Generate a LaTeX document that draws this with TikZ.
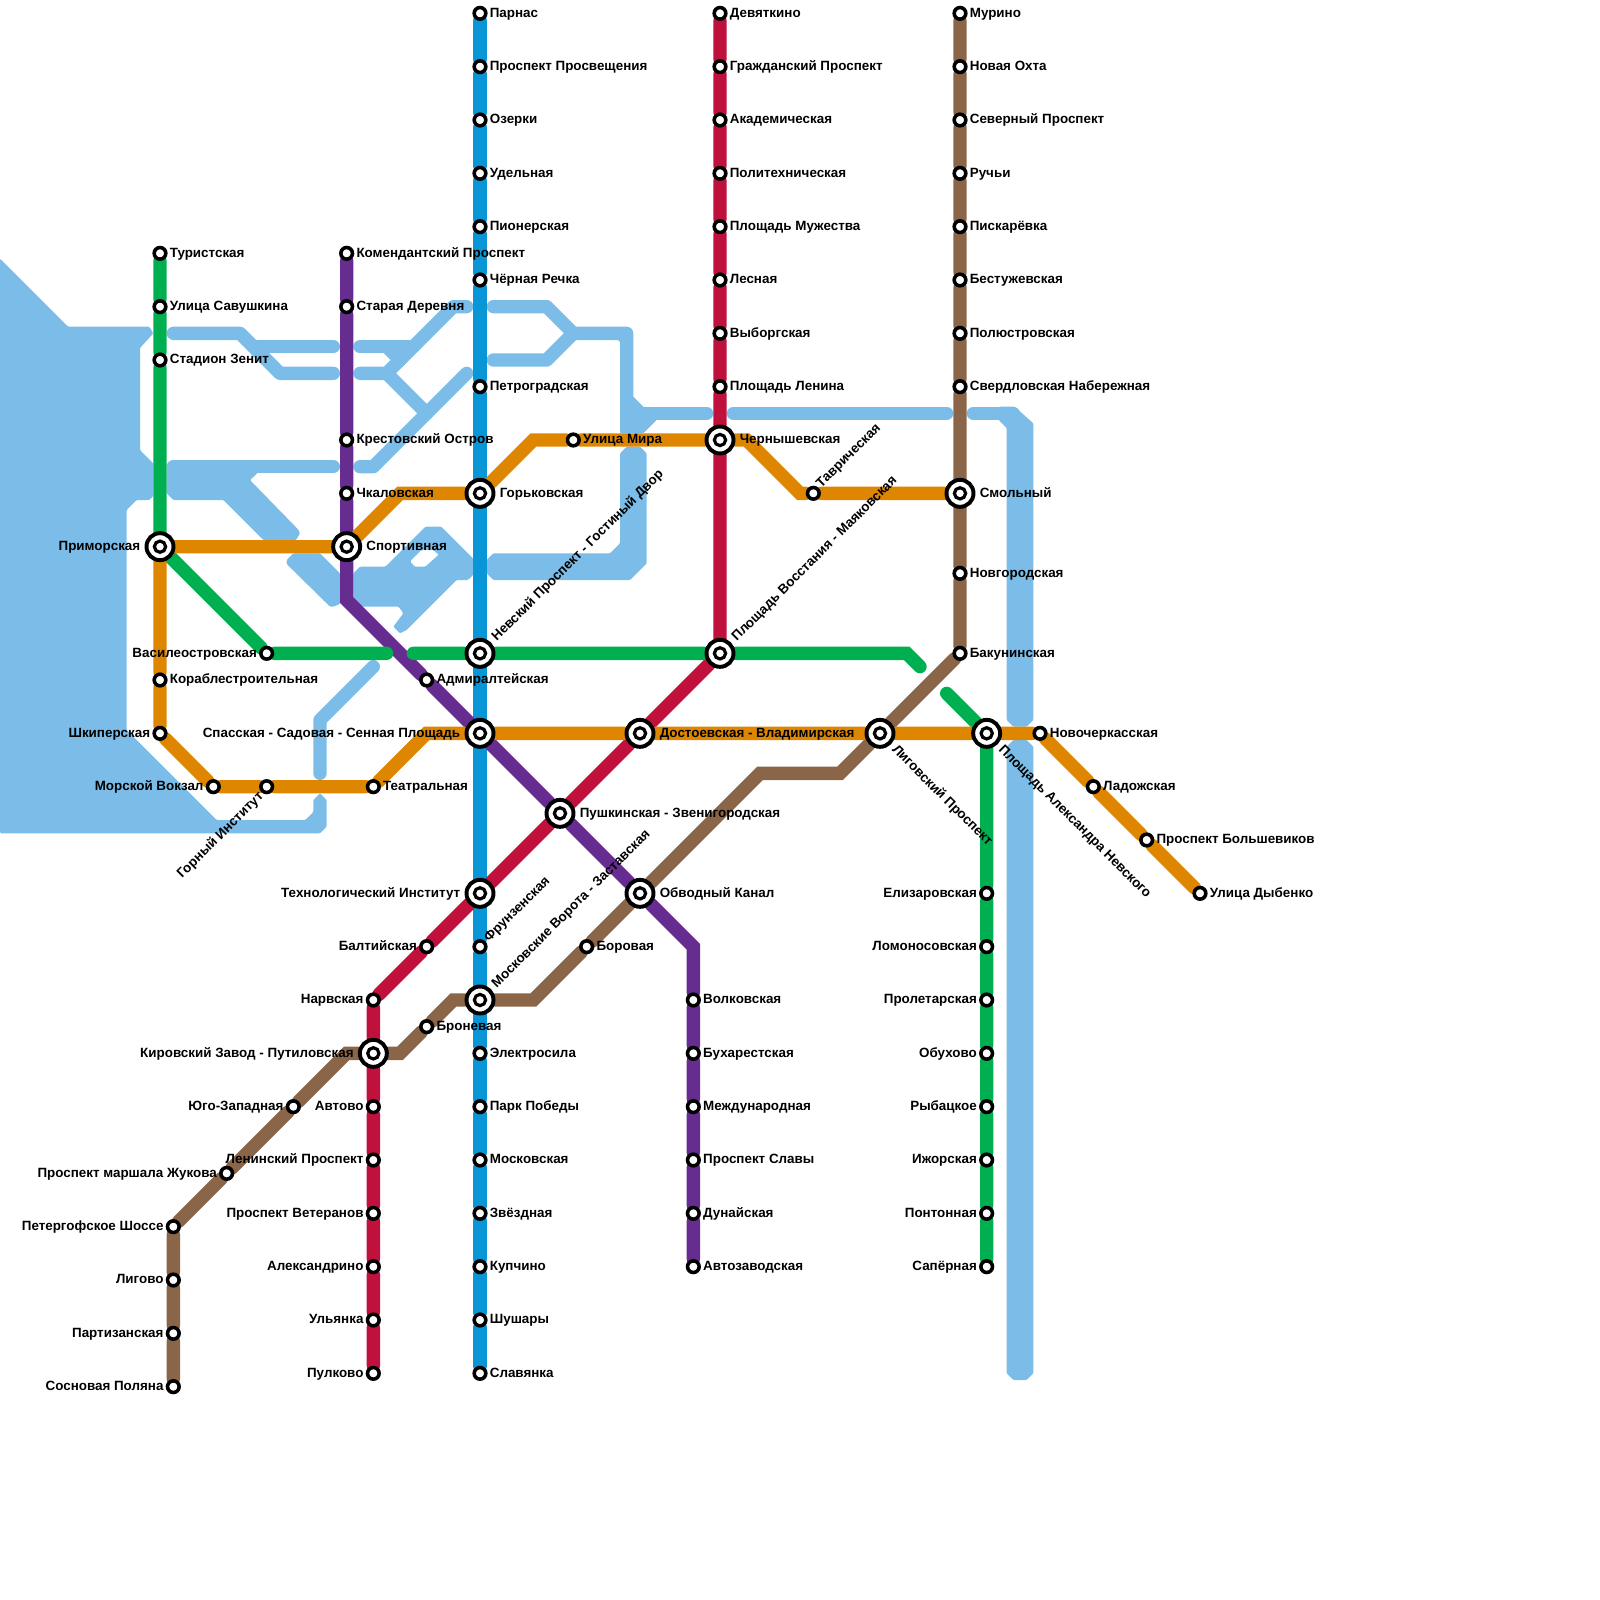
\documentclass[tikz,border=0pt]{standalone}
\usepackage{fontspec}
\setmainfont{Liberation Sans}
\usepackage{xcolor}
\definecolor{mtblue}{RGB}{9,150,215}
\definecolor{mtred}{RGB}{192,16,60}
\definecolor{mtbrown}{RGB}{139,101,72}
\definecolor{mtgreen}{RGB}{0,176,80}
\definecolor{mtorange}{RGB}{223,134,0}
\definecolor{mtpurple}{RGB}{102,44,144}
\definecolor{mtwater}{RGB}{123,189,232}
\usetikzlibrary{calc}
\pgfdeclarelayer{water}
\pgfdeclarelayer{track}
\pgfsetlayers{water,track,main}
\tikzset{
  st/.style={circle, draw=black, fill=white, line width=1.9pt, minimum size=6.2pt, inner sep=0pt},
  bigst/.style={circle, draw=black, fill=white, line width=2.1pt, minimum size=14.4pt, inner sep=0pt,
    path picture={\draw[black, line width=1.7pt] (path picture bounding box.center) circle (3.0pt);}},
  lb/.style={font=\bfseries\fontsize{7.15}{8}\selectfont, inner sep=0pt, outer sep=0pt, text=black, text height=5.6pt, text depth=1.5pt, label distance=1.2pt},
  biglb/.style={lb, label distance=2.3pt},
  rotlb/.style={lb, label distance=3.2pt},
  track/.style={line width=0.25cm, line cap=round},
  river/.style={draw=mtwater, line width=0.25cm, line cap=round},
  pool/.style={fill=mtwater, rounded corners=0.6pt},
}
\begin{document}
\begin{tikzpicture}[x=0.25cm, y=-0.25cm]
  \useasboundingbox (0,0) rectangle (120,120);

  % Line 2: blue
  \node[st, label={[lb]right:Парнас}] (parnas) at (36,1) {};
  \node[st, label={[lb]right:Проспект Просвещения}] (prosvet) at (36,5) {};
  \node[st, label={[lb]right:Озерки}] (ozerki) at (36,9) {};
  \node[st, label={[lb]right:Удельная}] (udel) at (36,13) {};
  \node[st, label={[lb]right:Пионерская}] (pioner) at (36,17) {};
  \node[st, label={[lb]right:Чёрная Речка}] (chrech) at (36,21) {};
  \node[st, label={[lb]right:Петроградская}] (petrog) at (36,29) {};
  \node[bigst, label={[biglb]right:Горьковская}] (gorkov) at (36,37) {};
  \node[bigst, label={[rotlb,rotate=45,anchor=west]33:Невский Проспект - Гостиный Двор}] (nevsky) at (36,49) {};
  \node[bigst, label={[biglb]left:Спасская - Садовая - Сенная Площадь}] (sennaya) at (36,55) {};
  \node[bigst, label={[biglb]left:Технологический Институт}] (tehno) at (36,67) {};
  \node[st, label={[lb,rotate=45,anchor=west]36:Фрунзенская}] (frunz) at (36,71) {};
  \node[bigst, label={[rotlb,rotate=45,anchor=west]33:Московские Ворота - Заставская}] (movor) at (36,75) {};
  \node[st, label={[lb]right:Электросила}] (elektro) at (36,79) {};
  \node[st, label={[lb]right:Парк Победы}] (parkpob) at (36,83) {};
  \node[st, label={[lb]right:Московская}] (moskov) at (36,87) {};
  \node[st, label={[lb]right:Звёздная}] (zvezd) at (36,91) {};
  \node[st, label={[lb]right:Купчино}] (kupch) at (36,95) {};
  \node[st, label={[lb]right:Шушары}] (shush) at (36,99) {};
  \node[st, label={[lb]right:Славянка}] (slav) at (36,103) {};

  % Line 1: red
  \node[st, label={[lb]right:Девяткино}] (devyat) at (54,1) {};
  \node[st, label={[lb]right:Гражданский Проспект}] (grazhd) at (54,5) {};
  \node[st, label={[lb]right:Академическая}] (akadem) at (54,9) {};
  \node[st, label={[lb]right:Политехническая}] (politeh) at (54,13) {};
  \node[st, label={[lb]right:Площадь Мужества}] (muzh) at (54,17) {};
  \node[st, label={[lb]right:Лесная}] (lesn) at (54,21) {};
  \node[st, label={[lb]right:Выборгская}] (vyborg) at (54,25) {};
  \node[st, label={[lb]right:Площадь Ленина}] (lenina) at (54,29) {};
  \node[bigst, label={[biglb]right:Чернышевская}] (chern) at (54,33) {};
  \node[bigst, label={[rotlb,rotate=45,anchor=west]33:Площадь Восстания - Маяковская}] (vosst) at (54,49) {};
  \node[bigst, label={[biglb]right:Достоевская - Владимирская}] (dostoev) at (48,55) {};
  \node[bigst, label={[biglb]right:Пушкинская - Звенигородская}] (pushk) at (42,61) {};
  \node[st, label={[lb]left:Балтийская}] (balt) at (32,71) {};
  \node[st, label={[lb]left:Нарвская}] (narv) at (28,75) {};
  \node[bigst, label={[biglb]left:Кировский Завод - Путиловская}] (kirov) at (28,79) {};
  \node[st, label={[lb]left:Автово}] (avtovo) at (28,83) {};
  \node[st, label={[lb]left:Ленинский Проспект}] (leninpr) at (28,87) {};
  \node[st, label={[lb]left:Проспект Ветеранов}] (veter) at (28,91) {};
  \node[st, label={[lb]left:Александрино}] (alex) at (28,95) {};
  \node[st, label={[lb]left:Ульянка}] (ulyan) at (28,99) {};
  \node[st, label={[lb]left:Пулково}] (pulk) at (28,103) {};

  % Line 4: brown
  \node[st, label={[lb]right:Мурино}] (murino) at (72,1) {};
  \node[st, label={[lb]right:Новая Охта}] (nokhta) at (72,5) {};
  \node[st, label={[lb]right:Северный Проспект}] (sever) at (72,9) {};
  \node[st, label={[lb]right:Ручьи}] (ruchi) at (72,13) {};
  \node[st, label={[lb]right:Пискарёвка}] (piskar) at (72,17) {};
  \node[st, label={[lb]right:Бестужевская}] (bestuzh) at (72,21) {};
  \node[st, label={[lb]right:Полюстровская}] (polyus) at (72,25) {};
  \node[st, label={[lb]right:Свердловская Набережная}] (sverdl) at (72,29) {};
  \node[bigst, label={[biglb]right:Смольный}] (smoln) at (72,37) {};
  \node[st, label={[lb]right:Новгородская}] (novgor) at (72,43) {};
  \node[st, label={[lb]right:Бакунинская}] (bakun) at (72,49) {};
  \node[bigst, label={[rotlb,rotate=-45,anchor=west]-33:Лиговский Проспект}] (ligov) at (66,55) {};
  \node[bigst, label={[biglb]right:Обводный Канал}] (obvod) at (48,67) {};
  \node[st, label={[lb]right:Боровая}] (borov) at (44,71) {};
  \node[st, label={[lb]right:Броневая}] (bronev) at (32,77) {};
  \node[st, label={[lb]left:Юго-Западная}] (yugoz) at (22,83) {};
  \node[st, label={[lb]left:Проспект маршала Жукова}] (zhukov) at (17,88) {};
  \node[st, label={[lb]left:Петергофское Шоссе}] (peterg) at (13,92) {};
  \node[st, label={[lb]left:Лигово}] (ligovo) at (13,96) {};
  \node[st, label={[lb]left:Партизанская}] (partiz) at (13,100) {};
  \node[st, label={[lb]left:Сосновая Поляна}] (sosnov) at (13,104) {};

  % Line 3: green
  \node[st, label={[lb]right:Туристская}] (turist) at (12,19) {};
  \node[st, label={[lb]right:Улица Савушкина}] (savush) at (12,23) {};
  \node[st, label={[lb]right:Стадион Зенит}] (zenit) at (12,27) {};
  \node[bigst, label={[biglb]left:Приморская}] (primor) at (12,41) {};
  \node[st, label={[lb]left:Василеостровская}] (vasil) at (20,49) {};
  \node[bigst, label={[rotlb,rotate=-45,anchor=west]-33:Площадь Александра Невского}] (alnev) at (74,55) {};
  \node[st, label={[lb]left:Елизаровская}] (elizar) at (74,67) {};
  \node[st, label={[lb]left:Ломоносовская}] (lomon) at (74,71) {};
  \node[st, label={[lb]left:Пролетарская}] (prolet) at (74,75) {};
  \node[st, label={[lb]left:Обухово}] (obuh) at (74,79) {};
  \node[st, label={[lb]left:Рыбацкое}] (rybac) at (74,83) {};
  \node[st, label={[lb]left:Ижорская}] (izhor) at (74,87) {};
  \node[st, label={[lb]left:Понтонная}] (ponton) at (74,91) {};
  \node[st, label={[lb]left:Сапёрная}] (saper) at (74,95) {};

  % Line 5: purple
  \node[st, label={[lb]right:Комендантский Проспект}] (koment) at (26,19) {};
  \node[st, label={[lb]right:Старая Деревня}] (stader) at (26,23) {};
  \node[st, label={[lb]right:Крестовский Остров}] (krest) at (26,33) {};
  \node[st, label={[lb]right:Чкаловская}] (chkal) at (26,37) {};
  \node[bigst, label={[biglb]right:Спортивная}] (sport) at (26,41) {};
  \node[st, label={[lb]right:Адмиралтейская}] (admir) at (32,51) {};
  \node[st, label={[lb]right:Волковская}] (volk) at (52,75) {};
  \node[st, label={[lb]right:Бухарестская}] (buhar) at (52,79) {};
  \node[st, label={[lb]right:Международная}] (mezhd) at (52,83) {};
  \node[st, label={[lb]right:Проспект Славы}] (prslav) at (52,87) {};
  \node[st, label={[lb]right:Дунайская}] (dunai) at (52,91) {};
  \node[st, label={[lb]right:Автозаводская}] (avtoz) at (52,95) {};

  % Line 6: orange
  \node[st, label={[lb]right:Кораблестроительная}] (korabl) at (12,51) {};
  \node[st, label={[lb]left:Шкиперская}] (shkip) at (12,55) {};
  \node[st, label={[lb]left:Морской Вокзал}] (morvok) at (16,59) {};
  \node[st, label={[lb,rotate=45,anchor=east]225:Горный Институт}] (gorny) at (20,59) {};
  \node[st, label={[lb]right:Театральная}] (teatr) at (28,59) {};
  \node[st, label={[lb]right:Улица Мира}] (ulmira) at (43,33) {};
  \node[st, label={[lb,rotate=45,anchor=west]45:Таврическая}] (tavr) at (61,37) {};
  \node[st, label={[lb]right:Новочеркасская}] (novoch) at (78,55) {};
  \node[st, label={[lb]right:Ладожская}] (ladozh) at (82,59) {};
  \node[st, label={[lb]right:Проспект Большевиков}] (bolsh) at (86,63) {};
  \node[st, label={[lb]right:Улица Дыбенко}] (dyben) at (90,67) {};

  % Bends
  \coordinate (purbend1) at (26,45);
  \coordinate (purbend2) at (52,71);
  \coordinate (orbend1) at (32,55);
  \coordinate (orbend2) at (30,37);
  \coordinate (orbend3) at (40,33);
  \coordinate (orbend4) at (56,33);
  \coordinate (orbend5) at (60,37);
  \coordinate (brbend1) at (63,58);
  \coordinate (brbend2) at (57,58);
  \coordinate (brbend3) at (40,75);
  \coordinate (brbend4) at (34,75);
  \coordinate (brbend5) at (30,79);
  \coordinate (brbend6) at (26,79);
  \coordinate (grend1) at (29,49);
  \coordinate (grend2) at (31,49);
  \coordinate (grend3) at (68,49);
  \coordinate (grend4) at (69,50);
  \coordinate (grend5) at (71,52);

  \begin{pgfonlayer}{track}
    \draw[track, mtblue] (parnas) -- (prosvet) -- (ozerki) -- (udel) -- (pioner) -- (chrech) -- (petrog) -- (gorkov) -- (nevsky) -- (sennaya) -- (tehno) -- (frunz) -- (movor) -- (elektro) -- (parkpob) -- (moskov) -- (zvezd) -- (kupch) -- (shush) -- (slav);
    \draw[track, mtpurple] (koment) -- (stader) -- (krest) -- (chkal) -- (sport) -- (purbend1) -- (admir) -- (sennaya) -- (pushk) -- (obvod) -- (purbend2) -- (volk) -- (buhar) -- (mezhd) -- (prslav) -- (dunai) -- (avtoz);
    \draw[track, mtred] (devyat) -- (grazhd) -- (akadem) -- (politeh) -- (muzh) -- (lesn) -- (vyborg) -- (lenina) -- (chern) -- (vosst) -- (dostoev) -- (pushk) -- (tehno) -- (balt) -- (narv) -- (kirov) -- (avtovo) -- (leninpr) -- (veter) -- (alex) -- (ulyan) -- (pulk);
    \draw[track, mtbrown] (murino) -- (nokhta) -- (sever) -- (ruchi) -- (piskar) -- (bestuzh) -- (polyus) -- (sverdl) -- (smoln) -- (novgor) -- (bakun) -- (ligov) -- (brbend1) -- (brbend2) -- (obvod) -- (borov) -- (brbend3) -- (movor) -- (brbend4) -- (bronev) -- (brbend5) -- (kirov) -- (brbend6) -- (yugoz) -- (zhukov) -- (peterg) -- (ligovo) -- (partiz) -- (sosnov);
    \draw[track, mtgreen] (turist) -- (savush) -- (zenit) -- (primor) -- (vasil) -- (grend1);
    \draw[track, mtgreen] (grend2) -- (nevsky) -- (vosst) -- (grend3) -- (grend4);
    \draw[track, mtgreen] (grend5) -- (alnev) -- (elizar) -- (lomon) -- (prolet) -- (obuh) -- (rybac) -- (izhor) -- (ponton) -- (saper);
    \draw[track, mtorange] (primor) -- (korabl) -- (shkip) -- (morvok) -- (gorny) -- (teatr) -- (orbend1) -- (sennaya) -- (dostoev) -- (ligov) -- (alnev) -- (novoch) -- (ladozh) -- (bolsh) -- (dyben);
    \draw[track, mtorange] (primor) -- (sport) -- (orbend2) -- (gorkov) -- (orbend3) -- (ulmira) -- (chern) -- (orbend4) -- (orbend5) -- (tavr) -- (smoln);
  \end{pgfonlayer}

  % Water
  \begin{pgfonlayer}{water}
    \fill[pool] (0,19.4) -- (5.1,24.5) -- (11.2,24.5) -- (11.5,25) -- (10.5,26.1) -- (10.5,33.75) -- (11.5,34.75) -- (11.5,37.2) -- (11.2,37.5) -- (10.25,37.5) -- (9.5,38.25) -- (9.5,54.75) -- (16.25,61.5) -- (22.9,61.5) -- (23.5,60.9) -- (23.5,60) -- (24,59.5) -- (24.5,60) -- (24.5,62) -- (24,62.5) -- (0,62.5) -- cycle;
    \draw[river, line join=round] (13,25) -- (18,25) -- (21,28) -- (25,28);
    \draw[river] (19,26) -- (25,26);
    \draw[river, line join=round] (35,23) -- (34,23) -- (29,28) -- (27,28);
    \draw[river] (27,26) -- (31,26);
    \draw[river] (29,26) -- (30,27);
    \draw[river] (29,28) -- (32,31);
    \draw[river, line join=round] (27,35) -- (28,35) -- (35,28);
    \draw[river] (13,35) -- (25,35);
    \fill[pool] (12.5,35) -- (13,34.5) -- (19.3,34.5) -- (19.3,35.5) -- (18.75,36) -- (22.4,39.75) -- (22.5,40) -- (22.2,40.5) -- (19.75,40.5) -- (16.75,37.5) -- (13,37.5) -- (12.5,37) -- cycle;
    \fill[pool] (22,41.5) -- (24,41.5) -- (25.5,43) -- (25.5,45.3) -- (25,45.5) -- (24.75,45.5) -- (21.5,42.3) -- (21.5,42) -- cycle;
    \fill[pool, even odd rule] (26.5,43) -- (27,42.5) -- (28.9,42.5) -- (31.9,39.5) -- (33.1,39.5) -- (35.5,41.9) -- (35.5,43.1) -- (35.1,43.5) -- (34.25,43.5) -- (30.5,47.25) -- (30,47.5) -- (29.5,47) -- (30.25,46) -- (29.9,45.5) -- (27,45.5) -- (26.5,45) -- cycle
      (30.75,42.1) -- (31.6,41.25) -- (32.5,41.25) -- (32.9,41.6) -- (31.9,42.5) -- (31.1,42.5) -- cycle;
    \fill[pool] (36.5,42) -- (37,41.5) -- (45.75,41.5) -- (46.5,40.75) -- (46.5,34) -- (47,33.5) -- (48,33.5) -- (48.5,34) -- (48.5,42.25) -- (47.25,43.5) -- (37,43.5) -- (36.5,43) -- cycle;
    \draw[river, line join=round] (37,23) -- (41,23) -- (43,25) -- (47,25) -- (47,32);
    \draw[river, line join=round] (37,27) -- (41,27) -- (43,25);
    \fill[pool] (45.9,25) -- (47,25) -- (47,26.2) -- cycle;
    \fill[pool] (46.5,29) -- (47.5,29.75) -- (48.25,30.5) -- (49.25,31.5) -- (48.25,32.5) -- (46.5,32.5) -- cycle;
    \draw[river] (48,31) -- (53,31);
    \draw[river] (55,31) -- (71,31);
    \draw[river, line join=round] (73,31) -- (76,31);
    \fill[pool] (74.9,30.5) -- (76.1,30.5) -- (77.5,31.75) -- (77.5,54) -- (77,54.5) -- (76,54.5) -- (75.5,54) -- (75.5,32.1) -- (74.9,31.5) -- cycle;
    \fill[pool] (75.5,56) -- (76,55.5) -- (77,55.5) -- (77.5,56) -- (77.5,103) -- (77,103.5) -- (76,103.5) -- (75.5,103) -- cycle;
    \draw[river, line join=round] (28,50) -- (24,54) -- (24,58);
  \end{pgfonlayer}
\end{tikzpicture}
\end{document}
